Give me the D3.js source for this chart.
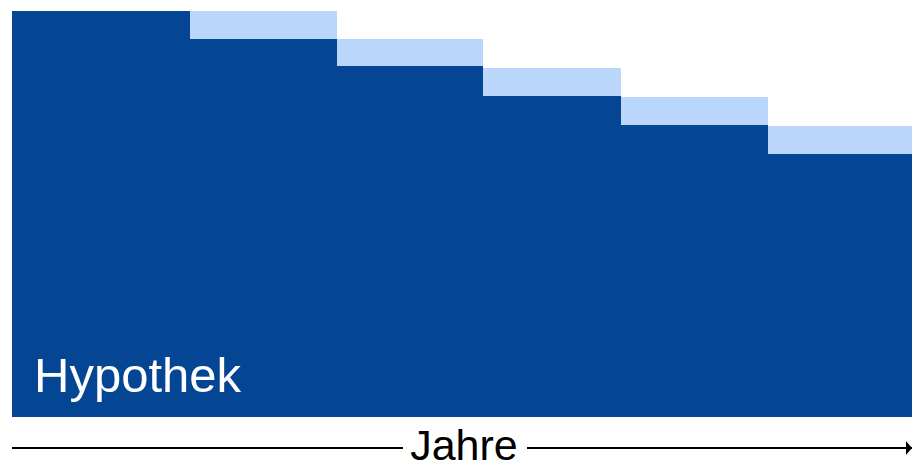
<!DOCTYPE html>
<html><head><meta charset="utf-8">
<script src="https://cdn.jsdelivr.net/npm/d3@7"></script>
<style>html,body{margin:0;padding:0;background:#fff;}svg{display:block;}</style>
</head><body>
<svg id="c" width="912" height="463"></svg>
<script>
// period boundaries (in years, estimated)
const periodStarts = [0, 1.187, 2.167, 3.14, 4.06, 5.04];
const periodEnds   = [1.187, 2.167, 3.14, 4.06, 5.04, 6];
// remaining mortgage (% of original)
const remaining = [100, 93.1, 86.5, 79.1, 71.9, 64.8];
// amortized portion in this period (%)
const amortized = [0, 6.9, 6.6, 6.9, 6.9, 6.9];
const label = "Hypothek";
const axisLabel = "Jahre";

const svg = d3.select("#c");
const x = d3.scaleLinear().domain([0, 6]).range([12, 912]);
const y = d3.scaleLinear().domain([0, 100]).range([417, 11]);

const data = remaining.map((v, i) => ({s: periodStarts[i], e: periodEnds[i], v, a: amortized[i]}));

svg.selectAll("rect.amort").data(data.filter(d => d.a > 0)).join("rect")
  .attr("class", "amort")
  .attr("x", d => x(d.s)).attr("width", d => x(d.e) - x(d.s))
  .attr("y", d => y(d.v + d.a)).attr("height", d => y(d.v) - y(d.v + d.a))
  .attr("fill", "#BAD7FB").attr("shape-rendering", "crispEdges");

svg.selectAll("rect.rem").data(data).join("rect")
  .attr("class", "rem")
  .attr("x", d => x(d.s)).attr("width", d => x(d.e) - x(d.s))
  .attr("y", d => y(d.v)).attr("height", d => y(0) - y(d.v))
  .attr("fill", "#054694").attr("shape-rendering", "crispEdges");

svg.append("text").text(label)
  .attr("x", 34).attr("y", 392)
  .attr("font-family", "Liberation Sans, Arial, sans-serif")
  .attr("font-size", 49).attr("fill", "#fff");

const ay = 448;
svg.append("line").attr("x1", x(0)).attr("x2", 403).attr("y1", ay).attr("y2", ay)
  .attr("stroke", "#000").attr("stroke-width", 2);
svg.append("line").attr("x1", 527).attr("x2", x(6)).attr("y1", ay).attr("y2", ay)
  .attr("stroke", "#000").attr("stroke-width", 2);
svg.append("path").attr("d", `M${x(6)-6},${ay-7}L${x(6)},${ay}L${x(6)-6},${ay+7}Z`).attr("fill", "#000");

svg.append("text").text(axisLabel)
  .attr("x", 464).attr("y", 460).attr("text-anchor", "middle")
  .attr("font-family", "Liberation Sans, Arial, sans-serif")
  .attr("font-size", 43).attr("fill", "#000");
</script>
</body></html>
